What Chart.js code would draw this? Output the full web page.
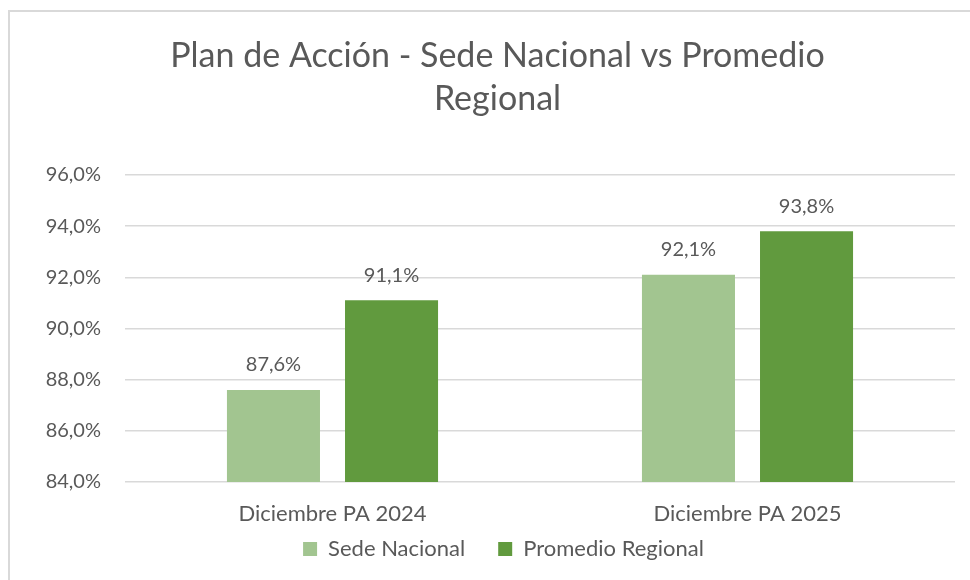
<!DOCTYPE html>
<html>
<head>
<meta charset="utf-8">
<script src="https://cdn.jsdelivr.net/npm/chart.js@4"></script>
<style>
  html, body { margin: 0; padding: 0; overflow: hidden; background: #fff; }
  #marco { position: absolute; left: 8px; top: 10px; width: 1000px; height: 620px; border: 2px solid #d9d9d9; }
  #lienzo { position: absolute; left: 0; top: 0; }
</style>
</head>
<body>
<div id="marco"></div>
<canvas id="lienzo" width="970" height="580"></canvas>
<script>
// Datos del gráfico
const categorias = ["Diciembre PA 2024", "Diciembre PA 2025"];
const sedeNacional = [87.6, 92.1];
const promedioRegional = [91.1, 93.8];
const tituloLineas = ["Plan de Acción - Sede Nacional vs Promedio", "Regional"];

const gris = "#595959";
const fuente = "Lato, 'Noto Sans', sans-serif";
const fmt = (v, dec) => v.toFixed(dec).replace(".", ",") + "%";

// Etiquetas de valor encima de cada barra
const etiquetasBarras = {
  id: "etiquetasBarras",
  afterDatasetsDraw(chart) {
    const ctx = chart.ctx;
    ctx.save();
    ctx.font = "20px " + fuente;
    ctx.fillStyle = gris;
    ctx.textAlign = "center";
    ctx.textBaseline = "middle";
    chart.data.datasets.forEach((ds, i) => {
      chart.getDatasetMeta(i).data.forEach((bar, j) => {
        ctx.fillText(fmt(ds.data[j], 1), bar.x, bar.y - 25);
      });
    });
    ctx.restore();
  }
};

// La leyenda tiene mucho espacio entre elementos; la subimos un poco
const subirLeyenda = {
  id: "subirLeyenda",
  afterLayout(chart) {
    const lg = chart.legend;
    lg.top = 505;
    lg.bottom = chart.height;
    lg.height = lg.bottom - lg.top;
    lg.left += 6;
    lg.right += 6;
  }
};

const ctx = document.getElementById("lienzo").getContext("2d");
new Chart(ctx, {
  type: "bar",
  data: {
    labels: categorias,
    datasets: [
      { label: "Sede Nacional", data: sedeNacional, backgroundColor: "#a2c590" },
      { label: "Promedio Regional", data: promedioRegional, backgroundColor: "#619a3e" }
    ]
  },
  options: {
    responsive: false,
    animation: false,
    categoryPercentage: 0.569,
    barPercentage: 0.788,
    layout: { padding: { left: 40, right: 15, top: 0, bottom: 0 } },
    plugins: {
      title: {
        display: true,
        text: tituloLineas,
        color: gris,
        font: { family: fuente, size: 34, weight: "normal", lineHeight: 1.25 },
        padding: { top: 35, bottom: 55 }
      },
      legend: {
        position: "bottom",
        maxHeight: 50,
        labels: {
          color: gris,
          font: { family: fuente, size: 22 },
          boxWidth: 14,
          boxHeight: 14,
          padding: 33
        }
      },
      tooltip: { enabled: false }
    },
    scales: {
      x: {
        afterFit(scale) { scale.height = 48; },
        grid: { display: false },
        border: { display: false },
        ticks: { color: gris, font: { family: fuente, size: 22 }, padding: 11 }
      },
      y: {
        min: 84,
        max: 96,
        afterFit(scale) { scale.width = 85; },
        grid: { color: "#d9d9d9", lineWidth: 1.5, drawTicks: false },
        border: { display: false },
        ticks: {
          stepSize: 2,
          color: gris,
          font: { family: fuente, size: 20 },
          padding: 24,
          callback: v => fmt(v, 1)
        }
      }
    }
  },
  plugins: [etiquetasBarras, subirLeyenda]
});
</script>
</body>
</html>
